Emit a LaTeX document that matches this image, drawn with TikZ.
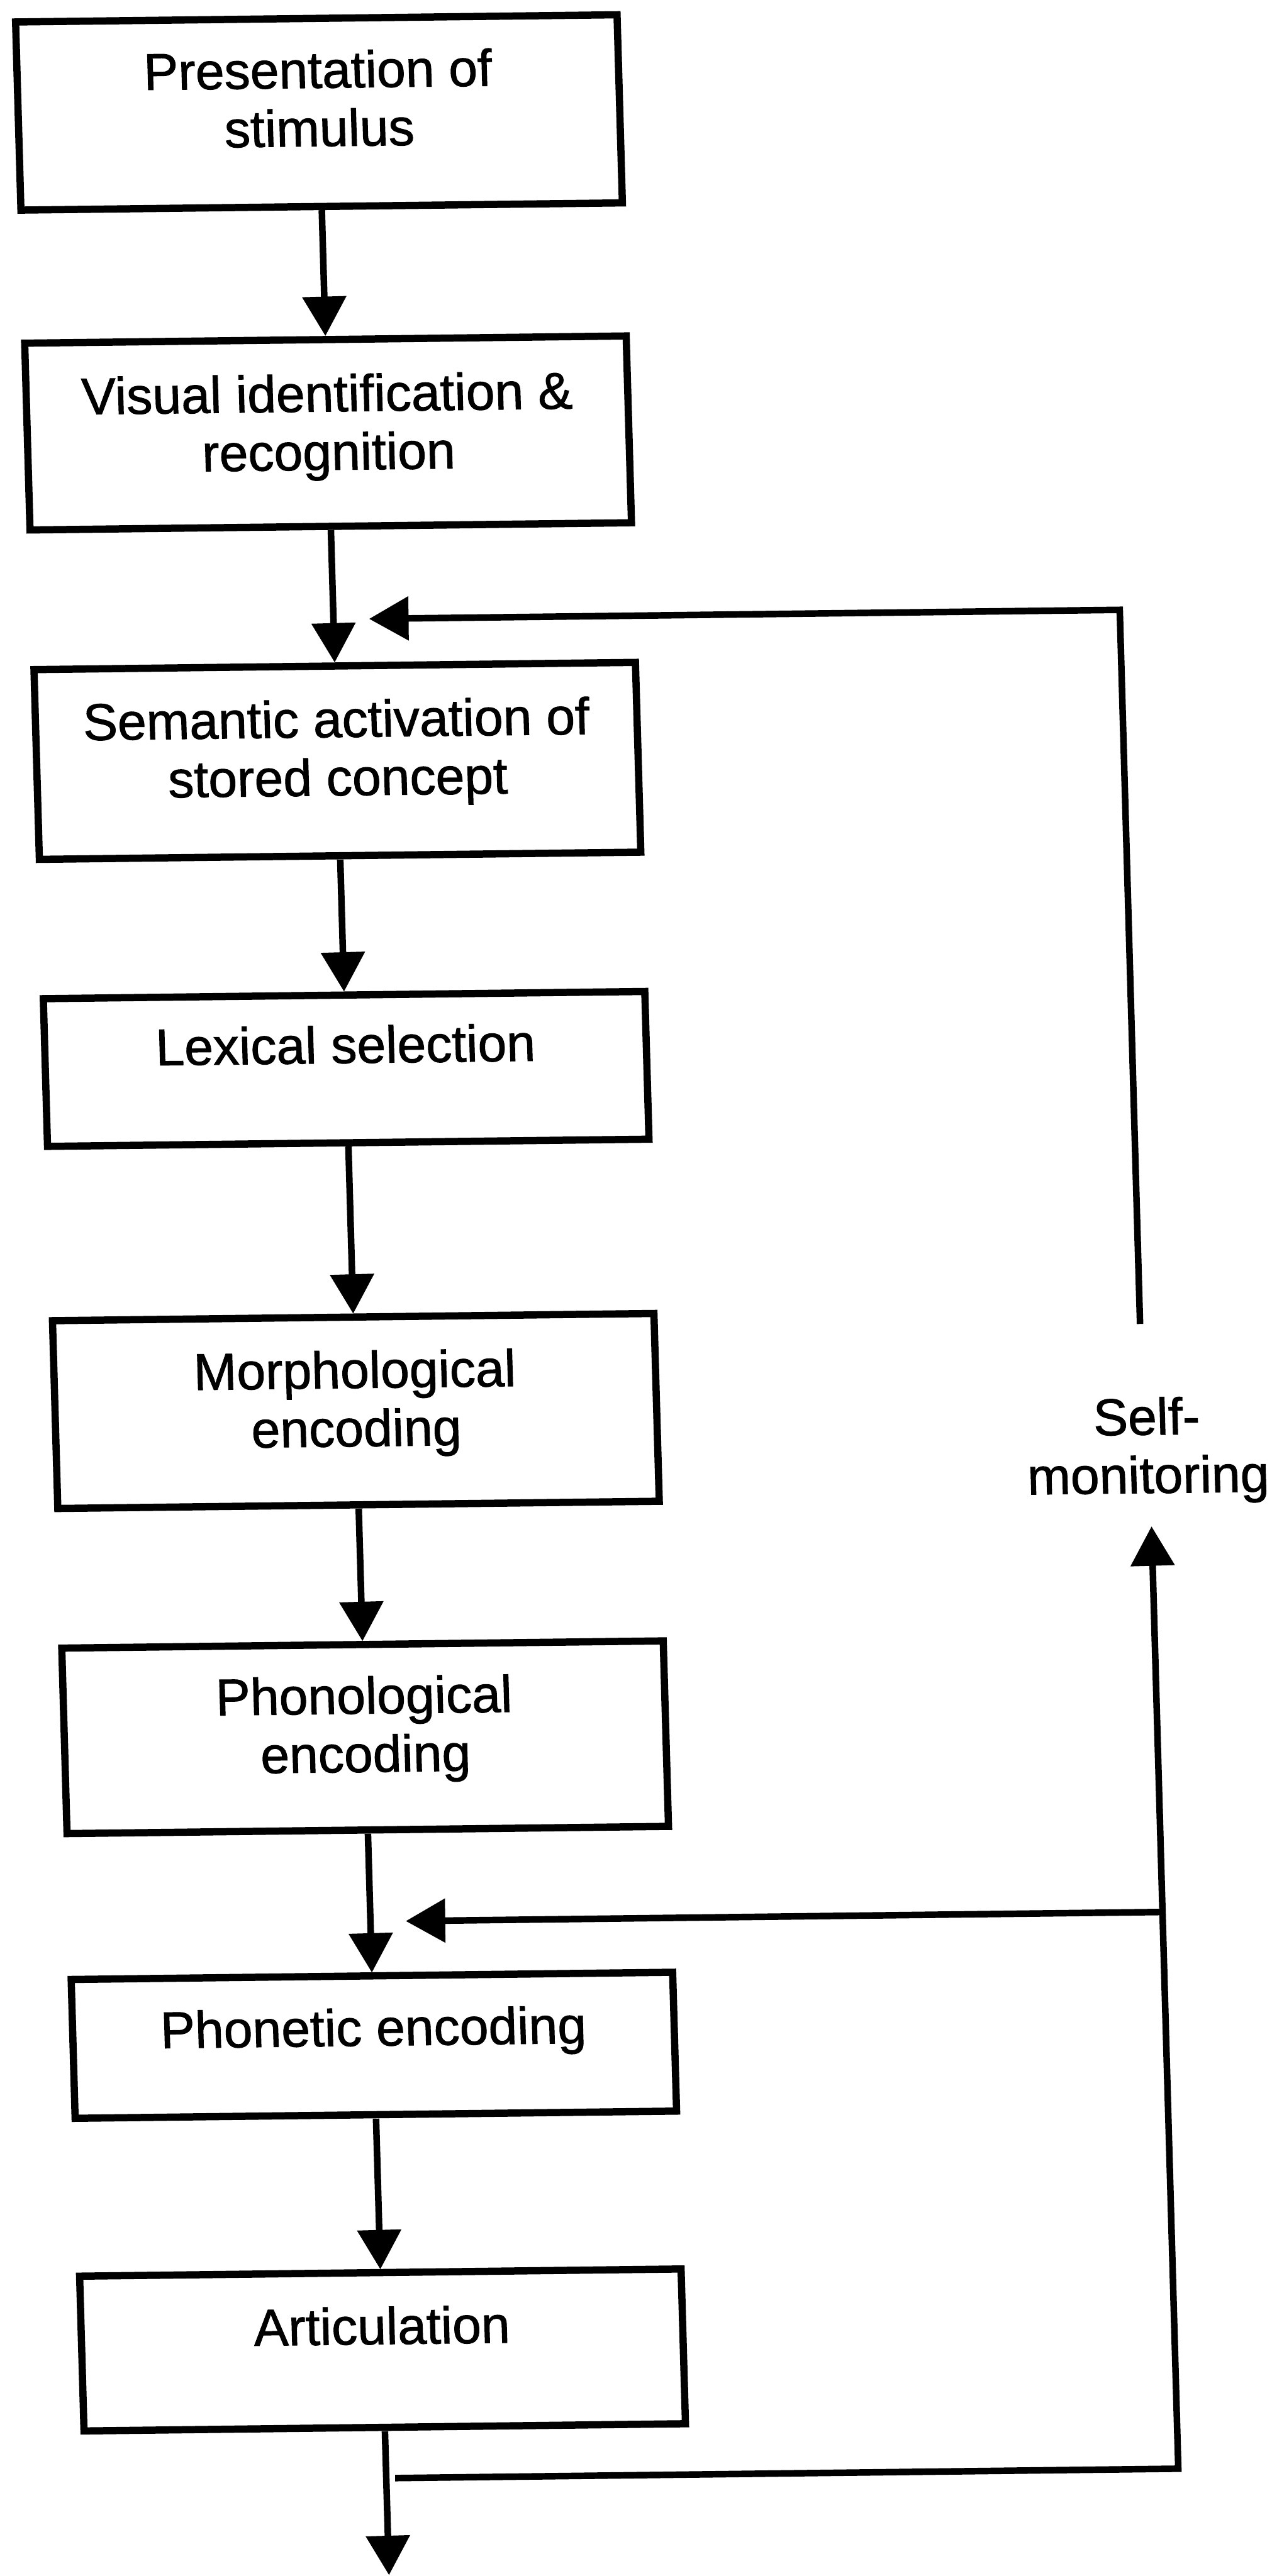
\documentclass[tikz,border=0pt]{standalone}
\usepackage{fontspec}
\setmainfont{Liberation Sans}[FakeBold=1.2]
\usetikzlibrary{arrows.meta}
\tikzset{
  stagebox/.style={draw, line width=4.4pt, rectangle, minimum width=366pt, inner sep=0pt},
  lbl/.style={font=\fontsize{31.5}{35.5}\selectfont, inner sep=0pt, anchor=base},
  conn/.style={line width=4pt},
  arr/.style={conn, -{Triangle[length=24pt,width=26pt]}}
}
\begin{document}
\begin{tikzpicture}[x=1pt,y=-1pt]
\useasboundingbox (0,0) rectangle (774,1568);
\begin{scope}[cm={1,0.012,-0.0284,1,(0,0)}, transform shape]
  % boxes
  \node[stagebox, minimum height=114.5pt] (b1) at (192.1,70.75) {};
  \node[stagebox, minimum height=113.7pt] (b2) at (192.1,265.85) {};
  \node[stagebox, minimum height=115.5pt] (b3) at (192.1,465.45) {};
  \node[stagebox, minimum height=89.9pt]  (b4) at (192.1,652.95) {};
  \node[stagebox, minimum height=114.3pt] (b5) at (192.1,861.15) {};
  \node[stagebox, minimum height=112.9pt] (b6) at (192.1,1059.75) {};
  \node[stagebox, minimum height=84.5pt]  (b7) at (192.1,1247.25) {};
  \node[stagebox, minimum height=94.2pt]  (b8) at (192.1,1432.7) {};
  % texts
  \node[lbl] (t1) at (192.1,55.8) {\begin{tabular}[t]{@{}c@{}}Presentation of\\stimulus\end{tabular}};
  \node[lbl] (t2) at (192.1,252.8) {\begin{tabular}[t]{@{}c@{}}Visual identification \&\\recognition\end{tabular}};
  \node[lbl] (t3) at (192.1,451) {\begin{tabular}[t]{@{}c@{}}Semantic activation of\\stored concept\end{tabular}};
  \node[lbl] (t4) at (192.1,649.4) {Lexical selection};
  \node[lbl] (t5) at (192.1,847.2) {\begin{tabular}[t]{@{}c@{}}Morphological\\encoding\end{tabular}};
  \node[lbl] (t6) at (192.1,1045.4) {\begin{tabular}[t]{@{}c@{}}Phonological\\encoding\end{tabular}};
  \node[lbl] (t7) at (192.1,1247.5) {Phonetic encoding};
  \node[lbl] (t8) at (192.1,1429.2) {Articulation};
  \node[lbl] (sm) at (673,881.4) {\begin{tabular}[t]{@{}c@{}}Self-\\monitoring\end{tabular}};
  % free ends
  \coordinate (fbtop) at (670.5,813.8);
  \coordinate (fb1tip) at (213.8,379.2);
  \coordinate (botstart) at (197.5,1510.5);
  \coordinate (smbottip) at (674,937);
  \coordinate (fb2start) at (674,1171.7);
  \coordinate (fb2tip) at (213.6,1171.7);
  \coordinate (outtip) at (192.1,1569.5);
  % main flow
  \draw[arr] (b1.south) -- (b2.north);
  \draw[arr] (b2.south) -- (b3.north);
  \draw[arr] (b3.south) -- (b4.north);
  \draw[arr] (b4.south) -- (b5.north);
  \draw[arr] (b5.south) -- (b6.north);
  \draw[arr] (b6.south) -- (b7.north);
  \draw[arr] (b7.south) -- (b8.north);
  \draw[arr] (b8.south) -- (outtip);
  % monitoring loops
  \draw[arr] (fbtop) |- (fb1tip);
  \draw[arr] (botstart) -| (smbottip);
  \draw[arr] (fb2start) -- (fb2tip);
\end{scope}
\end{tikzpicture}
\end{document}
